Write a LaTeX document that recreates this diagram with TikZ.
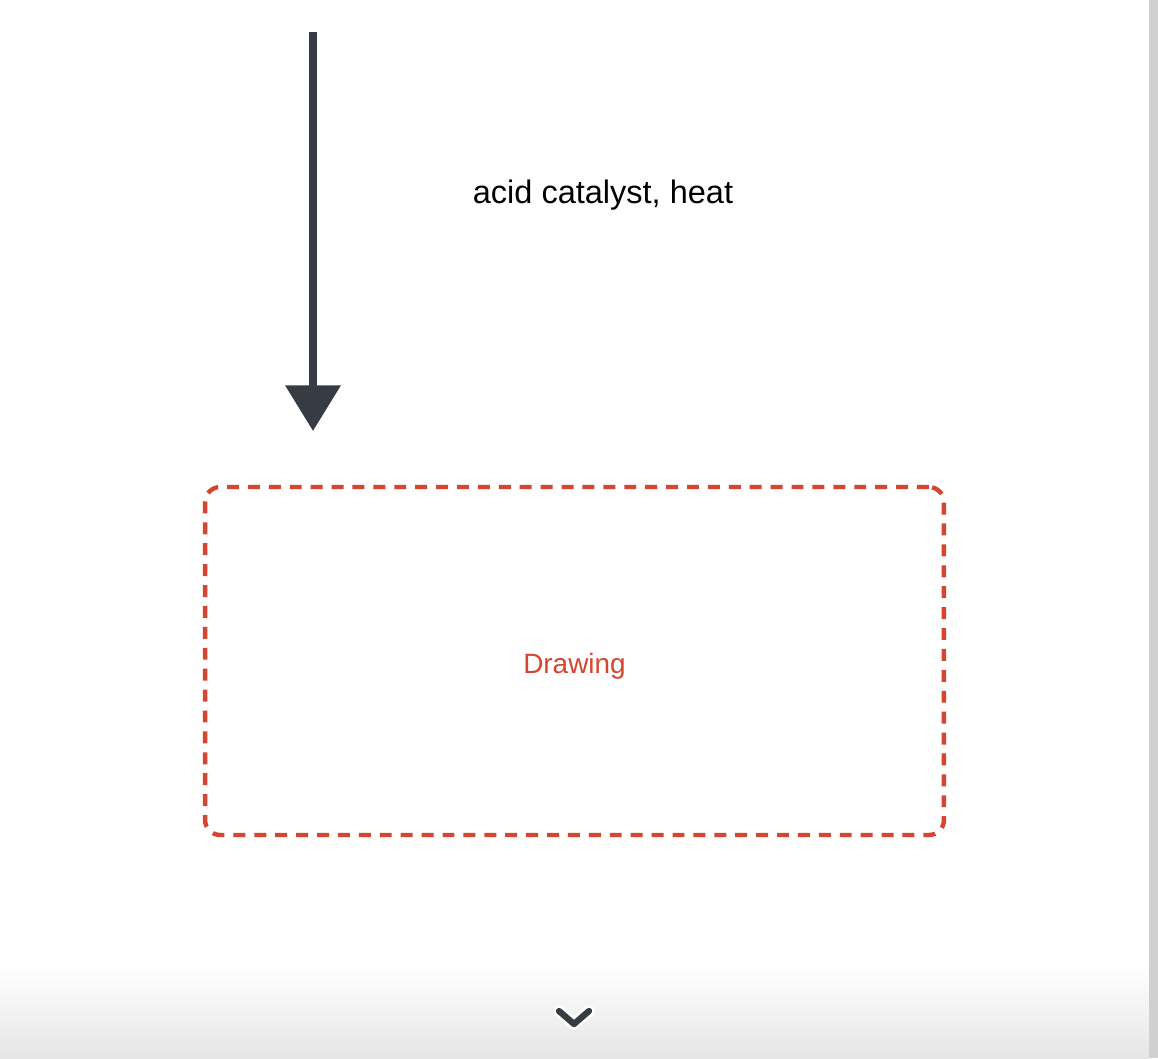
\documentclass[tikz,border=0pt]{standalone}
\usepackage{fontspec}
\setmainfont{Liberation Sans}
\usetikzlibrary{arrows.meta}

\definecolor{arrowgray}{HTML}{373C44}
\definecolor{boxred}{HTML}{D6452F}
\definecolor{bargray}{HTML}{D0D0D0}

\begin{document}
\begin{tikzpicture}[x=0.02cm,y=-0.02cm]
	\useasboundingbox (0,0) rectangle (1158,1058);
	\fill[white] (0,0) rectangle (1158,1058);
	\shade[top color=white,bottom color=black!10] (0,965) rectangle (1149,1058);
	\fill[bargray] (1149,0) rectangle (1158,1058);
	
	\coordinate (top) at (313,32);
	\coordinate (bottom) at (313,431);
	\draw[arrowgray,line width=4.5pt,-{Triangle[length=26pt,width=30.6pt]}] (top) -- (bottom);
	\node (cond) at (603,195) {\fontsize{18.5}{22}\selectfont acid catalyst, heat};
	
	\begin{scope}[every node/.style={draw=boxred,line width=2.5pt,dash pattern=on 6.8pt off 5.1pt,rounded corners=0.3cm}]
		\node[minimum width=14.78cm,minimum height=6.96cm] (product) at (574.5,661) {};
	\end{scope}
	\node[text=boxred] (label) at (574.5,666) {\fontsize{15.9}{19}\selectfont Drawing};
	
	\coordinate (chl) at (559,1011);
	\coordinate (chm) at (574,1024);
	\coordinate (chr) at (589,1011);
	\draw[white,line width=6.5pt,line cap=round,line join=round] (chl) -- (chm) -- (chr);
	\draw[arrowgray,line width=3.6pt,line cap=round,line join=round] (chl) -- (chm) -- (chr);
\end{tikzpicture}
\end{document}
